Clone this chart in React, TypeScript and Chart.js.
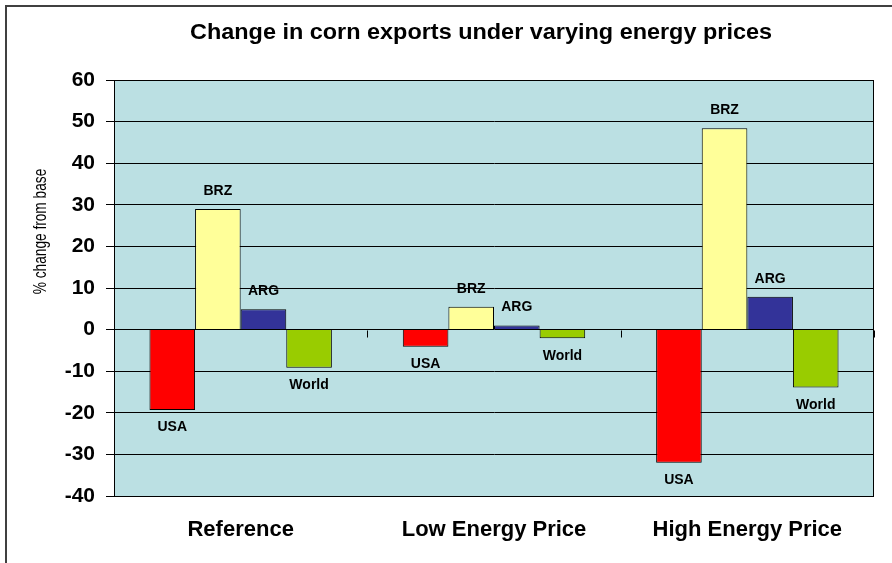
import React, { useEffect, useRef } from "react";
import { Chart, registerables } from "chart.js";

Chart.register(...registerables);

const chartTitle = "Change in corn exports under varying energy prices";
const yAxisTitle = "% change from base";
const categories = ["Reference", "Low Energy Price", "High Energy Price"];
const seriesNames = ["USA", "BRZ", "ARG", "World"];
const usaValues = [-19.3, -4.1, -32];
const brzValues = [29, 5.5, 48.4];
const argValues = [4.9, 1, 7.9];
const worldValues = [-9.2, -2.1, -13.9];
const yMin = -40;
const yMax = 60;
const yStep = 10;

const seriesColors = ["#FF0000", "#FFFF99", "#333399", "#99CC00"];
const FONT = "'Liberation Sans', Arial, sans-serif";

const decorPlugin = {
  id: "decor",
  beforeDraw(chart: any) {
    const { ctx, chartArea } = chart;
    ctx.save();
    ctx.fillStyle = "#BBE0E3";
    ctx.fillRect(chartArea.left, chartArea.top, chartArea.right - chartArea.left, chartArea.bottom - chartArea.top);
    ctx.restore();
  },
  afterDraw(chart: any) {
    const { ctx, chartArea } = chart;
    const xs = chart.scales.x;
    const ys = chart.scales.y;
    ctx.save();
    // plot border
    ctx.strokeStyle = "#000";
    ctx.lineWidth = 1;
    ctx.strokeRect(
      Math.round(chartArea.left) + 0.5,
      Math.round(chartArea.top) + 0.5,
      Math.round(chartArea.right - chartArea.left) - 1,
      Math.round(chartArea.bottom - chartArea.top)
    );
    // category tick marks on the zero line
    const zy = Math.round(ys.getPixelForValue(0)) + 0.5;
    const n = categories.length;
    for (let i = 0; i <= n; i++) {
      let x: number;
      if (i === 0) x = chartArea.left;
      else if (i === n) x = chartArea.right;
      else x = (xs.getPixelForValue(i - 1) + xs.getPixelForValue(i)) / 2;
      x = Math.round(x) + 0.5;
      ctx.beginPath();
      ctx.moveTo(x, zy);
      ctx.lineTo(x, zy + 7);
      ctx.stroke();
    }
    // bar labels
    ctx.fillStyle = "#000";
    ctx.font = `bold 14px ${FONT}`;
    ctx.textAlign = "center";
    ctx.textBaseline = "alphabetic";
    chart.data.datasets.forEach((ds: any, di: number) => {
      const meta = chart.getDatasetMeta(di);
      meta.data.forEach((el: any, i: number) => {
        const v = ds.data[i];
        if (v >= 0) ctx.fillText(ds.label, el.x, el.y - 14);
        else ctx.fillText(ds.label, el.x, el.y + 21.5);
      });
    });
    // chart title
    ctx.save();
    ctx.translate(481, 38.5);
    ctx.scale(1.065, 1);
    ctx.font = `bold 22px ${FONT}`;
    ctx.textAlign = "center";
    ctx.fillText(chartTitle, 0, 0);
    ctx.restore();
    // y axis title
    ctx.save();
    ctx.translate(46, 231.5);
    ctx.rotate(-Math.PI / 2);
    ctx.scale(0.76, 1);
    ctx.font = `18px ${FONT}`;
    ctx.textAlign = "center";
    ctx.fillText(yAxisTitle, 0, 0);
    ctx.restore();
    ctx.restore();
  },
};

export default function App() {
  const canvasRef = useRef<HTMLCanvasElement | null>(null);

  useEffect(() => {
    const canvas = canvasRef.current;
    if (!canvas) return;
    const valueSets = [usaValues, brzValues, argValues, worldValues];
    const chart = new Chart(canvas, {
      type: "bar",
      data: {
        labels: categories,
        datasets: seriesNames.map((name, i) => ({
          label: name,
          data: valueSets[i],
          backgroundColor: seriesColors[i],
          borderColor: "#000",
          borderWidth: 1,
          barPercentage: 1,
          categoryPercentage: 0.72,
        })),
      },
      options: {
        animation: false,
        responsive: false,
        maintainAspectRatio: false,
        devicePixelRatio: 1,
        layout: { padding: { top: 80, right: 18, left: 0, bottom: 0 } },
        plugins: {
          legend: { display: false },
          tooltip: { enabled: false },
          title: { display: false },
        },
        scales: {
          x: {
            grid: { display: false, drawTicks: false },
            border: { display: false },
            ticks: {
              color: "#000",
              font: { family: FONT, size: 22, weight: "bold" },
              padding: 21,
              maxRotation: 0,
              autoSkip: false,
            },
            afterFit(scale: any) {
              scale.height = 67;
            },
          },
          y: {
            min: yMin,
            max: yMax,
            ticks: {
              stepSize: yStep,
              color: "#000",
              font: { family: FONT, size: 21, weight: "bold" },
              padding: 11,
            },
            grid: {
              color: "#000",
              lineWidth: 1,
              drawTicks: true,
              tickLength: 8,
              tickColor: "#000",
            },
            border: { display: true, color: "#000", width: 1 },
            afterFit(scale: any) {
              scale.width = 114;
            },
          },
        },
      },
      plugins: [decorPlugin],
    });
    return () => chart.destroy();
  }, []);

  return (
    <div style={{ position: "fixed", left: 0, top: 0, width: 892, height: 563, background: "#fff", overflow: "hidden" }}>
      <div
        style={{
          position: "absolute",
          left: 5,
          top: 5,
          width: 900,
          height: 557,
          borderLeft: "2px solid #404040",
          borderTop: "2px solid #404040",
        }}
      />
      <canvas ref={canvasRef} width={892} height={563} style={{ position: "absolute", left: 0, top: 0, width: 892, height: 563 }} />
    </div>
  );
}
